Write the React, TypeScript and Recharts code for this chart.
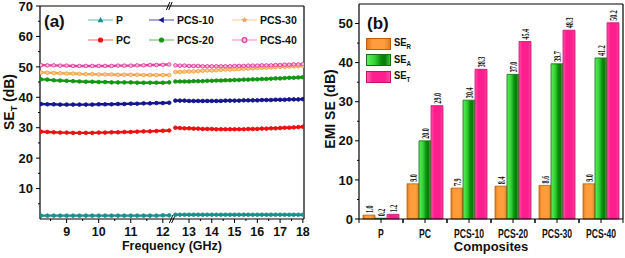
import React from 'react';
import {
  LineChart, Line, XAxis, YAxis, ReferenceLine, Legend, Label,
  BarChart, Bar, LabelList,
} from 'recharts';

const FONT = '"Liberation Sans", Arial, Helvetica, sans-serif';
const SERIF = '"Liberation Serif", "Times New Roman", serif';

// ---------------- panel (a): SE_T versus frequency ----------------
const FREQ_LEFT = [8.2, 8.4, 8.6, 8.8, 9.0, 9.2, 9.4, 9.6, 9.8, 10.0, 10.2, 10.4, 10.6, 10.8, 11.0, 11.2, 11.4, 11.6, 11.8, 12.0, 12.2];
const FREQ_RIGHT = [12.4, 12.6, 12.8, 13.0, 13.2, 13.4, 13.6, 13.8, 14.0, 14.2, 14.4, 14.6, 14.8, 15.0, 15.2, 15.4, 15.6, 15.8, 16.0, 16.2, 16.4, 16.6, 16.8, 17.0, 17.2, 17.4, 17.6, 17.8, 18.0];

const P_LEFT = [1.1, 1.1, 1.1, 1.1, 1.1, 1.1, 1.1, 1.1, 1.1, 1.1, 1.1, 1.1, 1.1, 1.1, 1.1, 1.1, 1.1, 1.1, 1.1, 1.2, 1.2];
const P_RIGHT = [1.4, 1.4, 1.4, 1.4, 1.4, 1.4, 1.4, 1.4, 1.4, 1.4, 1.4, 1.4, 1.4, 1.4, 1.4, 1.4, 1.4, 1.4, 1.4, 1.4, 1.4, 1.4, 1.4, 1.4, 1.4, 1.4, 1.4, 1.4, 1.4];
const PC_LEFT = [28.7, 28.6, 28.5, 28.4, 28.4, 28.3, 28.3, 28.3, 28.3, 28.4, 28.4, 28.5, 28.5, 28.6, 28.6, 28.7, 28.8, 28.8, 28.9, 29.0, 29.1];
const PC_RIGHT = [30.0, 29.9, 29.8, 29.8, 29.7, 29.7, 29.6, 29.6, 29.6, 29.5, 29.5, 29.5, 29.5, 29.5, 29.5, 29.5, 29.6, 29.6, 29.6, 29.7, 29.7, 29.8, 29.8, 29.9, 30.0, 30.0, 30.1, 30.2, 30.3];
const PCS10_LEFT = [37.8, 37.7, 37.7, 37.6, 37.6, 37.6, 37.6, 37.6, 37.6, 37.7, 37.7, 37.7, 37.8, 37.8, 37.9, 37.9, 38.0, 38.0, 38.1, 38.1, 38.2];
const PCS10_RIGHT = [38.9, 38.9, 38.9, 38.8, 38.8, 38.8, 38.8, 38.8, 38.8, 38.8, 38.8, 38.9, 38.9, 38.9, 38.9, 39.0, 39.0, 39.0, 39.0, 39.1, 39.1, 39.1, 39.2, 39.2, 39.2, 39.3, 39.3, 39.3, 39.4];
const PCS20_LEFT = [45.9, 45.8, 45.6, 45.5, 45.4, 45.3, 45.2, 45.1, 45.1, 45.0, 45.0, 44.9, 44.9, 44.9, 44.9, 44.8, 44.8, 44.8, 44.8, 44.8, 44.9];
const PCS20_RIGHT = [45.2, 45.2, 45.2, 45.2, 45.3, 45.3, 45.3, 45.4, 45.4, 45.5, 45.5, 45.6, 45.6, 45.7, 45.7, 45.8, 45.8, 45.9, 45.9, 46.0, 46.0, 46.1, 46.2, 46.2, 46.3, 46.4, 46.4, 46.5, 46.6];
const PCS30_LEFT = [48.2, 48.1, 48.0, 47.9, 47.8, 47.8, 47.7, 47.6, 47.6, 47.5, 47.5, 47.5, 47.4, 47.4, 47.4, 47.4, 47.3, 47.3, 47.3, 47.3, 47.3];
const PCS30_RIGHT = [48.3, 48.3, 48.4, 48.5, 48.5, 48.6, 48.7, 48.8, 48.8, 48.9, 49.0, 49.1, 49.1, 49.2, 49.3, 49.4, 49.4, 49.5, 49.6, 49.7, 49.7, 49.8, 49.9, 50.0, 50.0, 50.1, 50.2, 50.2, 50.3];
const PCS40_LEFT = [50.6, 50.5, 50.5, 50.4, 50.4, 50.3, 50.3, 50.3, 50.3, 50.3, 50.3, 50.3, 50.4, 50.4, 50.4, 50.5, 50.5, 50.6, 50.6, 50.7, 50.8];
const PCS40_RIGHT = [50.5, 50.4, 50.4, 50.3, 50.3, 50.3, 50.2, 50.2, 50.2, 50.2, 50.2, 50.2, 50.2, 50.3, 50.3, 50.3, 50.4, 50.4, 50.4, 50.5, 50.5, 50.5, 50.6, 50.6, 50.7, 50.7, 50.8, 50.8, 50.9];

const Y_TICKS_A = [5, 10, 15, 20, 25, 30, 35, 40, 45, 50, 55, 60, 65, 70];
const X_TICK_FREQS = [8.5, 9, 9.5, 10, 10.5, 11, 11.5, 12, 13, 13.5, 14, 14.5, 15, 15.5, 16, 16.5, 17, 17.5, 18];

// broken frequency axis: left part (X band) and compressed right part (Ku band)
const LEFT_END = 12.2;
const RIGHT_START = 12.4;
const GAP = 0.19;
const RIGHT_K = 0.71;
const toAxis = (f: number) => (f <= 12.3 ? f : LEFT_END + GAP + (f - RIGHT_START) * RIGHT_K);
const fromAxis = (u: number) => (u <= 12.3 ? u : (u - LEFT_END - GAP) / RIGHT_K + RIGHT_START);
const X_MIN = 8.17;
const X_MAX = toAxis(18.05);
const BREAK_MID = (toAxis(LEFT_END) + toAxis(RIGHT_START)) / 2;

const SERIES = [
  { key: 'P', left: P_LEFT, right: P_RIGHT, color: '#1b8f8f', light: '#7cc4c4', dotFill: '#1b8f8f', shape: 'tri' },
  { key: 'PC', left: PC_LEFT, right: PC_RIGHT, color: '#ec1010', light: '#f78080', dotFill: '#ec1010', shape: 'circle' },
  { key: 'PCS-10', left: PCS10_LEFT, right: PCS10_RIGHT, color: '#15158c', light: '#6c6cc0', dotFill: '#15158c', shape: 'ltri' },
  { key: 'PCS-20', left: PCS20_LEFT, right: PCS20_RIGHT, color: '#139613', light: '#74c474', dotFill: '#139613', shape: 'circle' },
  { key: 'PCS-30', left: PCS30_LEFT, right: PCS30_RIGHT, color: '#f3a445', light: '#f8cc98', dotFill: '#f8cc98', shape: 'star' },
  { key: 'PCS-40', left: PCS40_LEFT, right: PCS40_RIGHT, color: '#e23f9c', light: '#f296cc', dotFill: '#f7b8dc', shape: 'hex' },
];

const rowsA: any[] = [
  ...FREQ_LEFT.map((f, i) => {
    const r: any = { u: toAxis(f) };
    SERIES.forEach((s) => { r[s.key] = s.left[i]; });
    return r;
  }),
  (() => { const r: any = { u: BREAK_MID }; SERIES.forEach((s) => { r[s.key] = null; }); return r; })(),
  ...FREQ_RIGHT.map((f, i) => {
    const r: any = { u: toAxis(f) };
    SERIES.forEach((s) => { r[s.key] = s.right[i]; });
    return r;
  }),
];
const X_TICKS_A = X_TICK_FREQS.map(toAxis);

// ---------------- panel (b): EMI SE of composites ----------------
const COMPOSITES = ['P', 'PC', 'PCS-10', 'PCS-20', 'PCS-30', 'PCS-40'];
const SE_R = [1.0, 9.0, 7.9, 8.4, 8.6, 9.0];
const SE_A = [0.2, 20.0, 30.4, 37.0, 39.7, 41.2];
const SE_T = [1.2, 29.0, 38.3, 45.4, 48.3, 50.2];
const Y_TICKS_B = [0, 5, 10, 15, 20, 25, 30, 35, 40, 45, 50];

const rowsB = COMPOSITES.map((c, i) => ({ name: c, SER: SE_R[i], SEA: SE_A[i], SET: SE_T[i] }));

const B_WIDTH = 313;
const B_LEFT_AXIS = 47;
const B_RIGHT = 2;
const BAND = (B_WIDTH - B_LEFT_AXIS - B_RIGHT) / COMPOSITES.length;

// ---------------- helpers ----------------
const makeYTick = (labelZero: boolean, offset: number) => (props: any) => {
  const { x, y, payload } = props;
  const v = payload.value;
  const major = v % 10 === 0;
  const axisX = x + offset;
  return (
    <g>
      <line x1={axisX - (major ? 4 : 2)} x2={axisX} y1={y} y2={y} stroke="#000" strokeWidth={1} />
      {major && (labelZero || v !== 0) && (
        <text x={x} y={y} dy="0.36em" textAnchor="end" fontSize={13} fontWeight="bold" fontFamily={FONT} fill="#111">
          {v}
        </text>
      )}
    </g>
  );
};

const FreqTick = (props: any) => {
  const { x, y, payload } = props;
  const f = fromAxis(payload.value);
  const major = Math.abs(f - Math.round(f)) < 0.01;
  const axisY = y - 8;
  return (
    <g>
      <line x1={x} x2={x} y1={axisY} y2={axisY + (major ? 4 : 2)} stroke="#000" strokeWidth={1} />
      {major && (
        <text x={x} y={y} dy="0.71em" textAnchor="middle" fontSize={12.5} fontWeight="bold" fontFamily={FONT} fill="#111">
          {Math.round(f)}
        </text>
      )}
    </g>
  );
};

const CompositeTick = (props: any) => {
  const { x, y, payload } = props;
  const axisY = y - 10;
  return (
    <g>
      {[x - BAND / 2, x, x + BAND / 2].map((tx, i) => (
        <line key={i} x1={tx} x2={tx} y1={axisY} y2={axisY + 4} stroke="#000" strokeWidth={1} />
      ))}
      <text transform={`translate(${x},${y}) scale(0.72,1)`} dy="0.71em" textAnchor="middle" fontSize={12} fontWeight="bold" fontFamily={FONT} fill="#111">
        {payload.value}
      </text>
    </g>
  );
};

const ValueLabel = (props: any) => {
  const { x, y, width, value } = props;
  const cx = Number(x) + Number(width) / 2;
  const top = Number(y) - 2;
  return (
    <text transform={`translate(${cx},${top}) rotate(-90) scale(0.58,1)`} dy="0.35em" textAnchor="start" fontSize={10.5} fontWeight="bold" fontFamily={SERIF} fill="#111">
      {Number(value).toFixed(1)}
    </text>
  );
};

const Marker = ({ shape, color, cx, cy }: any) => {
  switch (shape) {
    case 'tri':
      return <polygon points={`${cx},${cy - 3} ${cx - 3},${cy + 2.2} ${cx + 3},${cy + 2.2}`} fill={color} />;
    case 'ltri':
      return <polygon points={`${cx - 3},${cy} ${cx + 2.3},${cy - 3} ${cx + 2.3},${cy + 3}`} fill={color} />;
    case 'star': {
      const pts: string[] = [];
      for (let i = 0; i < 10; i++) {
        const a = -Math.PI / 2 + (i * Math.PI) / 5;
        const r = i % 2 === 0 ? 3.2 : 1.4;
        pts.push(`${cx + r * Math.cos(a)},${cy + r * Math.sin(a)}`);
      }
      return <polygon points={pts.join(' ')} fill={color} />;
    }
    case 'hex':
      return <circle cx={cx} cy={cy} r={2.4} fill="#f8c0e0" stroke={color} strokeWidth={1.2} />;
    default:
      return <circle cx={cx} cy={cy} r={2.6} fill={color} />;
  }
};

const LEGEND_A_POS = [
  { left: 88, top: 14 }, { left: 88, top: 34 },
  { left: 149, top: 14 }, { left: 149, top: 34 },
  { left: 232, top: 14 }, { left: 232, top: 34 },
];
const LEGEND_A_ORDER = ['P', 'PC', 'PCS-10', 'PCS-20', 'PCS-30', 'PCS-40'];

const LegendA = () => (
  <div style={{ position: 'relative', width: 312, height: 60 }}>
    <div style={{ position: 'absolute', left: 44, top: 13, fontFamily: FONT, fontWeight: 'bold', fontSize: 17, lineHeight: '17px', color: '#111' }}>(a)</div>
    {LEGEND_A_ORDER.map((k, i) => {
      const s = SERIES.find((d) => d.key === k)!;
      const pos = LEGEND_A_POS[i];
      return (
        <div key={k} style={{ position: 'absolute', left: pos.left, top: pos.top, height: 12, display: 'flex', alignItems: 'center', whiteSpace: 'nowrap' }}>
          <svg width={25} height={12} style={{ display: 'block' }}>
            <line x1={0} x2={25} y1={6} y2={6} stroke={s.light} strokeWidth={1.2} />
            <Marker shape={s.shape} color={s.color} cx={12.5} cy={6} />
          </svg>
          <span style={{ marginLeft: 3, fontFamily: FONT, fontWeight: 'bold', fontSize: 10.5, color: '#111' }}>{k}</span>
        </div>
      );
    })}
  </div>
);

const BAR_STYLES = [
  { key: 'SER', sub: 'R', fill: 'url(#gOrange)', css: 'linear-gradient(to right,#e47b1c,#ff9d3c 25%,#ff9d3c 75%,#e47b1c)', stroke: '#b8600e' },
  { key: 'SEA', sub: 'A', fill: 'url(#gGreen)', css: 'linear-gradient(to right,#5cf05c,#30d030 35%,#0a8a0a 62%,#0b7a0b 78%,#34c834)', stroke: '#1a6a1a' },
  { key: 'SET', sub: 'T', fill: 'url(#gPink)', css: 'linear-gradient(to right,#ff5aab,#ff1e8e 25%,#ff1e8e 75%,#f24a9e)', stroke: '#cc1070' },
];

const LegendB = () => (
  <div style={{ position: 'relative', width: 313, height: 90 }}>
    <div style={{ position: 'absolute', left: 55, top: 15, fontFamily: FONT, fontWeight: 'bold', fontSize: 17, lineHeight: '17px', color: '#111' }}>(b)</div>
    {BAR_STYLES.map((b, i) => (
      <div key={b.key} style={{ position: 'absolute', left: 54, top: 37.5 + i * 16.5, height: 12, display: 'flex', alignItems: 'center', whiteSpace: 'nowrap' }}>
        <div style={{ width: 23, height: 10, background: b.css, border: `1px solid ${b.stroke}` }} />
        <span style={{ marginLeft: 3, fontFamily: FONT, fontWeight: 'bold', fontSize: 11.5, color: '#111', display: 'inline-block', transform: 'scaleX(0.82)', transformOrigin: 'left center' }}>
          SE<sub style={{ fontSize: 7.5, verticalAlign: '-3px' }}>{b.sub}</sub>
        </span>
      </div>
    ))}
  </div>
);

const slash = (u: number, yc: number, dyU: number) => [
  { x: u - 0.055, y: yc - dyU },
  { x: u + 0.055, y: yc + dyU },
];

export default function App() {
  return (
    <div style={{ position: 'absolute', left: 0, top: 0, width: 625, height: 258, background: '#fff', overflow: 'hidden' }}>
      <div style={{ position: 'absolute', left: 0, top: 0 }}>
        <LineChart width={312} height={258} data={rowsA} margin={{ top: 6, right: 8, bottom: 0, left: 0 }}>
          <XAxis
            dataKey="u" type="number" domain={[X_MIN, X_MAX]} allowDataOverflow ticks={X_TICKS_A} interval={0}
            tick={FreqTick} tickLine={false} tickSize={4} tickMargin={4} height={39}
            axisLine={{ stroke: '#000', strokeWidth: 1.2 }}
          >
            <Label content={(p: any) => {
              const vb = p.viewBox || { x: 40, y: 219, width: 264 };
              return <text x={vb.x + vb.width / 2} y={vb.y + 30.5} textAnchor="middle" fontSize={12.5} fontWeight="bold" fontFamily={FONT} fill="#111">Frequency (GHz)</text>;
            }} />
          </XAxis>
          <YAxis
            type="number" domain={[0, 70]} ticks={Y_TICKS_A} interval={0} width={40}
            tick={makeYTick(false, 7)} tickLine={false} tickSize={4} tickMargin={3}
            axisLine={{ stroke: '#000', strokeWidth: 1.2 }}
          >
            <Label content={() => (
              <text transform="translate(14,102) rotate(-90)" textAnchor="middle" fontSize={14} fontWeight="bold" fontFamily={FONT} fill="#111">
                SE<tspan fontSize={9} dy={3}>T</tspan><tspan dy={-3}> (dB)</tspan>
              </text>
            )} />
          </YAxis>
          <ReferenceLine y={70} stroke="#000" strokeWidth={1.2} />
          <ReferenceLine x={X_MAX} stroke="#000" strokeWidth={1.2} />
          {SERIES.map((s) => (
            <Line
              key={s.key} dataKey={s.key} type="linear" stroke={s.color} strokeWidth={2.4}
              dot={{ r: 1.8, fill: s.dotFill, stroke: s.color, strokeWidth: 0.9 }} activeDot={false}
              connectNulls={false} isAnimationActive={false}
            />
          ))}
          <ReferenceLine segment={slash(BREAK_MID - 0.036, 0, 1.3)} stroke="#000" strokeWidth={1} ifOverflow="visible" />
          <ReferenceLine segment={slash(BREAK_MID + 0.036, 0, 1.3)} stroke="#000" strokeWidth={1} ifOverflow="visible" />
          <ReferenceLine segment={slash(BREAK_MID - 0.13, 70, 1.3)} stroke="#000" strokeWidth={1} ifOverflow="visible" />
          <ReferenceLine segment={slash(BREAK_MID - 0.058, 70, 1.3)} stroke="#000" strokeWidth={1} ifOverflow="visible" />
          <Legend verticalAlign="middle" align="center" layout="horizontal" content={LegendA}
            wrapperStyle={{ left: 0, top: 0, width: 312, height: 60 }} />
        </LineChart>
      </div>
      <div style={{ position: 'absolute', left: 312, top: 0 }}>
        <BarChart width={B_WIDTH} height={258} data={rowsB} margin={{ top: 4, right: 1, bottom: 0, left: 0 }} barCategoryGap={4} barGap={0}>
          <defs>
            <linearGradient id="gOrange" x1="0" y1="0" x2="1" y2="0">
              <stop offset="0%" stopColor="#e47b1c" />
              <stop offset="25%" stopColor="#ff9d3c" />
              <stop offset="75%" stopColor="#ff9d3c" />
              <stop offset="100%" stopColor="#e47b1c" />
            </linearGradient>
            <linearGradient id="gGreen" x1="0" y1="0" x2="1" y2="0">
              <stop offset="0%" stopColor="#5cf05c" />
              <stop offset="35%" stopColor="#30d030" />
              <stop offset="62%" stopColor="#0a8a0a" />
              <stop offset="78%" stopColor="#0b7a0b" />
              <stop offset="100%" stopColor="#34c834" />
            </linearGradient>
            <linearGradient id="gPink" x1="0" y1="0" x2="1" y2="0">
              <stop offset="0%" stopColor="#ff5aab" />
              <stop offset="25%" stopColor="#ff1e8e" />
              <stop offset="75%" stopColor="#ff1e8e" />
              <stop offset="100%" stopColor="#f24a9e" />
            </linearGradient>
          </defs>
          <XAxis
            dataKey="name" interval={0} tick={CompositeTick} tickLine={false} tickSize={4} tickMargin={6} height={39}
            axisLine={{ stroke: '#000', strokeWidth: 1.2 }}
          >
            <Label content={(p: any) => {
              const vb = p.viewBox || { x: 47, y: 219, width: 264 };
              return <text x={vb.x + vb.width / 2} y={vb.y + 32} textAnchor="middle" fontSize={13} fontWeight="bold" fontFamily={FONT} fill="#111">Composites</text>;
            }} />
          </XAxis>
          <YAxis
            yAxisId="l" type="number" domain={[0, 55]} ticks={Y_TICKS_B} interval={0} width={B_LEFT_AXIS}
            tick={makeYTick(true, 6)} tickLine={false} tickSize={4} tickMargin={2}
            axisLine={{ stroke: '#000', strokeWidth: 1.2 }}
          >
            <Label content={() => (
              <text transform="translate(23,109) rotate(-90)" textAnchor="middle" fontSize={14} fontWeight="bold" fontFamily={FONT} fill="#111">
                EMI SE (dB)
              </text>
            )} />
          </YAxis>
          <YAxis yAxisId="r" orientation="right" type="number" domain={[0, 55]} width={1} tick={false} tickLine={false}
            axisLine={{ stroke: '#000', strokeWidth: 1.2 }} />
          <ReferenceLine yAxisId="l" y={55} stroke="#000" strokeWidth={1.2} />
          {BAR_STYLES.map((b) => (
            <Bar key={b.key} yAxisId="l" dataKey={b.key} fill={b.fill} stroke={b.stroke} strokeWidth={0.8} isAnimationActive={false}>
              <LabelList dataKey={b.key} content={ValueLabel} />
            </Bar>
          ))}
          <Legend verticalAlign="middle" align="center" layout="horizontal" content={LegendB}
            wrapperStyle={{ left: 0, top: 0, width: 313, height: 90 }} />
        </BarChart>
      </div>
    </div>
  );
}
